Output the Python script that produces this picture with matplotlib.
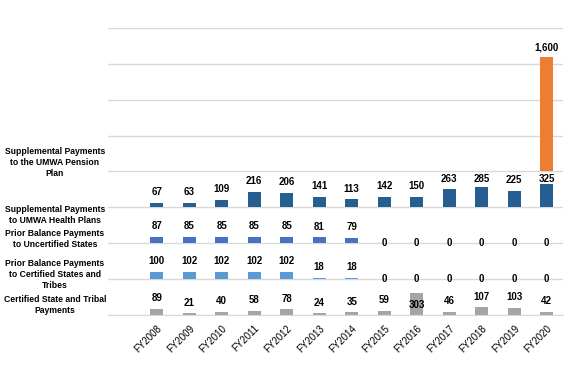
import numpy as np
import matplotlib
matplotlib.use("Agg")
import matplotlib.pyplot as plt

plt.rcParams['font.family'] = ['Liberation Sans', 'DejaVu Sans']

years = ["FY2008", "FY2009", "FY2010", "FY2011", "FY2012", "FY2013", "FY2014",
         "FY2015", "FY2016", "FY2017", "FY2018", "FY2019", "FY2020"]

# panels, bottom to top
certified_state = [89, 21, 40, 58, 78, 24, 35, 59, 303, 46, 107, 103, 42]
prior_certified = [100, 102, 102, 102, 102, 18, 18, 0, 0, 0, 0, 0, 0]
prior_uncertified = [87, 85, 85, 85, 85, 81, 79, 0, 0, 0, 0, 0, 0]
health_plans = [67, 63, 109, 216, 206, 141, 113, 142, 150, 263, 285, 225, 325]
pension_plan = [0, 0, 0, 0, 0, 0, 0, 0, 0, 0, 0, 0, 1600]

row_labels = ["Certified State and Tribal\nPayments",
              "Prior Balance Payments\nto Certified States and\nTribes",
              "Prior Balance Payments\nto Uncertified States",
              "Supplemental Payments\nto UMWA Health Plans",
              "Supplemental Payments\nto the UMWA Pension\nPlan"]
series = [certified_state, prior_certified, prior_uncertified, health_plans, pension_plan]
colors = ["#A5A5A5", "#5B9BD5", "#4472C4", "#255E91", "#ED7D31"]
step = 500  # each panel is one band of 500
label_off = [140, 70, 55, -110, 125]  # row label height against its band

fig = plt.figure(figsize=(5.76, 3.70), dpi=100)
ax = fig.add_axes([108/576, 55/370, 455/576, 287/370])

x = np.arange(len(years))
for k, (vals, col, lab) in enumerate(zip(series, colors, row_labels)):
    base = k * step
    vals = np.array(vals)
    ax.bar(x, vals, 0.4, bottom=base, color=col, zorder=2)
    if k < 4:
        for xi, v in zip(x, vals):
            if v == 0:
                yl = base
            elif v + 150 > 420 and k + 1 < 4:
                yl = base + v - 160  # no room under the next row's label
            else:
                yl = base + min(v + 150, 400)
            ax.text(xi, yl, f"{v:,}", ha='center', va='center', fontsize=7,
                    fontweight='bold', zorder=3)
    else:
        for xi, v in zip(x, vals):
            if v > 0:
                ax.annotate(f"{v:,}", (xi, base + v), xytext=(0, 3),
                            textcoords='offset points', ha='center', va='bottom',
                            fontsize=7, fontweight='bold')
    ax.text(-0.1165, base + label_off[k], lab, transform=ax.get_yaxis_transform(),
            ha='center', va='center', fontsize=6.2, fontweight='bold',
            linespacing=1.3)

ax.set_xlim(-1.5, 12.5)
ax.set_ylim(0, 4000)
ax.set_yticks(np.arange(0, 4001, step))
ax.yaxis.grid(True, color="#D9D9D9", linewidth=1)
ax.set_axisbelow(True)
ax.tick_params(axis='y', left=False, labelleft=False)
ax.set_xticks(x)
ax.set_xticklabels(years, rotation=45, ha='right', rotation_mode='anchor', fontsize=7)
ax.tick_params(axis='x', length=0, pad=6)
for s in ['top', 'right', 'left']:
    ax.spines[s].set_visible(False)
ax.spines['bottom'].set_color("#D9D9D9")

fig.savefig("out.png", dpi=100)
